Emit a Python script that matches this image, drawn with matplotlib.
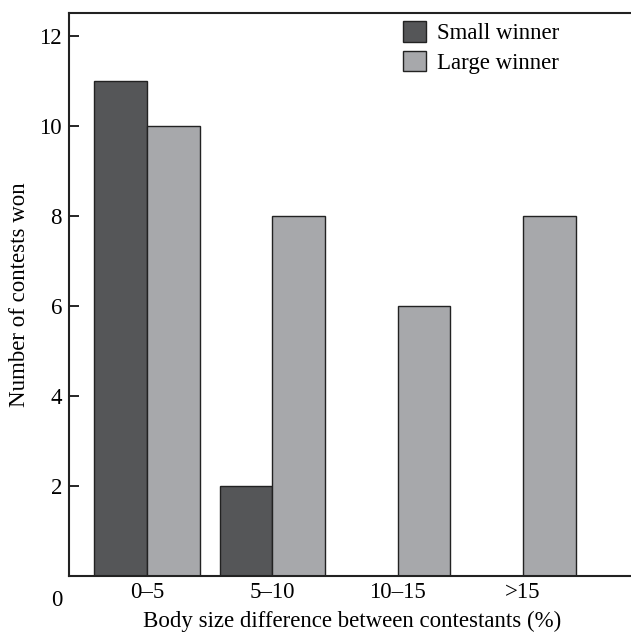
import matplotlib.pyplot as plt
import numpy as np

# Data
categories = ["0\u20135", "5\u201310", "10\u201315", ">15"]
small_winner = [11, 2, 0, 0]
large_winner = [10, 8, 6, 8]
y_ticks = [2, 4, 6, 8, 10, 12]

dark = "#555658"
light = "#a7a8ab"

plt.rcParams["font.family"] = ["Liberation Serif", "DejaVu Serif"]
plt.rcParams["font.size"] = 16.5

W, H = 631, 636
fig = plt.figure(figsize=(W / 100, H / 100), dpi=100)
left, right, top, bottom = 69, 700, 13, 576
ax = fig.add_axes([left / W, (H - bottom) / H, (right - left) / W, (bottom - top) / H])

x = np.arange(len(categories))
width = 0.42
ax.bar(x - width / 2, small_winner, width, color=dark, edgecolor="#222222",
       linewidth=1.0, label="Small winner")
ax.bar(x + width / 2, large_winner, width, color=light, edgecolor="#222222",
       linewidth=1.0, label="Large winner")

px = 125.3
ax.set_xlim(-(147 - left) / px, (right - 147) / px)
ax.set_ylim(0, (bottom - top) / 45.0)

ax.set_xticks(x)
ax.set_xticklabels(categories)
ax.tick_params(axis="x", length=0, pad=4)
ax.set_yticks(y_ticks)
ax.tick_params(axis="y", direction="in", length=7, width=1.2, pad=5)

for s in ["left", "bottom", "top"]:
    ax.spines[s].set_linewidth(1.5)
    ax.spines[s].set_color("#222222")
ax.spines["right"].set_visible(False)

ax.set_ylabel("Number of contests won", labelpad=7)
ax.set_xlabel("Body size difference between contestants (%)")
# axes run off the right edge, so centre the label on the visible part
ax.xaxis.set_label_coords((352 - left) / (right - left), -(611 - bottom) / (bottom - top))

# origin label sits below the axis corner
fig.text(57 / W, 1 - 600 / H, "0", ha="center", va="center")

ax.legend(loc="upper left", bbox_to_anchor=(403 / W, 1 - 21 / H),
          bbox_transform=fig.transFigure, frameon=False, borderpad=0,
          borderaxespad=0, handlelength=1.0, handleheight=1.0,
          handletextpad=0.5, labelspacing=0.3)

fig.savefig("out.png", dpi=100)
